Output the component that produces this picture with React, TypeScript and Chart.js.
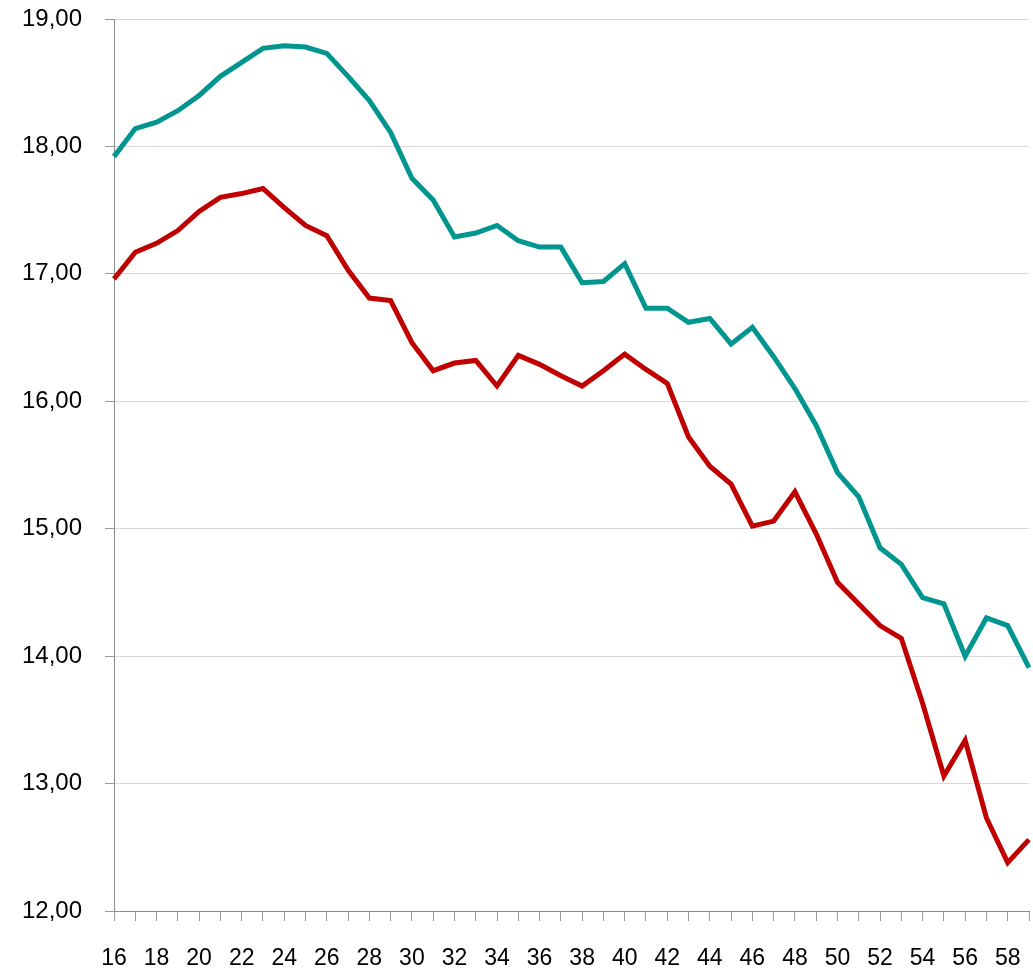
import React, { useEffect, useRef } from "react";
import { Chart, registerables } from "chart.js";

Chart.register(...registerables);

const categories: string[] = [];
for (let a = 16; a <= 59; a++) categories.push(String(a));

const tealSeries = [
  17.92, 18.14, 18.19, 18.28, 18.40, 18.55, 18.66, 18.77, 18.79, 18.78,
  18.73, 18.55, 18.36, 18.11, 17.75, 17.58, 17.29, 17.32, 17.38, 17.26,
  17.21, 17.21, 16.93, 16.94, 17.08, 16.73, 16.73, 16.62, 16.65, 16.45,
  16.58, 16.35, 16.10, 15.81, 15.44, 15.25, 14.85, 14.72, 14.46, 14.41,
  14.00, 14.30, 14.24, 13.91,
];

const redSeries = [
  16.96, 17.17, 17.24, 17.34, 17.49, 17.60, 17.63, 17.67, 17.52, 17.38,
  17.30, 17.03, 16.81, 16.79, 16.46, 16.24, 16.30, 16.32, 16.12, 16.36,
  16.29, 16.20, 16.12, 16.24, 16.37, 16.25, 16.14, 15.72, 15.49, 15.35,
  15.02, 15.06, 15.29, 14.96, 14.58, 14.41, 14.24, 14.14, 13.63, 13.06,
  13.34, 12.73, 12.38, 12.56,
];

const yMin = 12;
const yMax = 19;

export default function App() {
  const ref = useRef<HTMLCanvasElement | null>(null);

  useEffect(() => {
    if (!ref.current) return;
    const family = "'Liberation Sans', Arial, Helvetica, sans-serif";
    const chart = new Chart(ref.current, {
      type: "line",
      data: {
        labels: categories,
        datasets: [
          {
            data: tealSeries,
            borderColor: "#00968F",
            borderWidth: 5,
            pointRadius: 0,
            tension: 0,
            fill: false,
          },
          {
            data: redSeries,
            borderColor: "#C00000",
            borderWidth: 5,
            pointRadius: 0,
            tension: 0,
            fill: false,
          },
        ],
      },
      options: {
        animation: false,
        responsive: false,
        maintainAspectRatio: false,
        layout: { padding: { top: 19, right: 4, left: 0, bottom: 0 } },
        plugins: { legend: { display: false }, tooltip: { enabled: false } },
        scales: {
          x: {
            type: "category",
            offset: false,
            grid: {
              drawOnChartArea: false,
              drawTicks: true,
              tickLength: 10,
              tickColor: "#999999",
            },
            border: { display: true, color: "#8c8c8c", width: 1 },
            ticks: {
              autoSkip: false,
              maxRotation: 0,
              minRotation: 0,
              padding: 24,
              color: "#000000",
              font: { family, size: 23 },
              callback: (_v: any, i: number) => (i % 2 === 0 ? categories[i] : ""),
            },
            afterFit: (s: any) => {
              s.height = 58;
              s.paddingLeft = 0;
              s.paddingRight = 0;
            },
          },
          y: {
            min: yMin,
            max: yMax,
            grid: {
              color: "#d9d9d9",
              lineWidth: 1,
              drawTicks: true,
              tickLength: 9,
              tickColor: "#999999",
            },
            border: { display: true, color: "#8c8c8c", width: 1 },
            ticks: {
              stepSize: 1,
              padding: 23,
              color: "#000000",
              font: { family, size: 24 },
              callback: (v: any) => Number(v).toFixed(2).replace(".", ","),
            },
            afterFit: (s: any) => {
              s.width = 114;
              s.paddingTop = 0;
              s.paddingBottom = 0;
            },
          },
        },
      },
    });
    return () => chart.destroy();
  }, []);

  return (
    <div style={{ position: "absolute", left: 0, top: 0, width: 1033, height: 969, background: "#fff" }}>
      <canvas ref={ref} width={1033} height={969} style={{ display: "block" }} />
    </div>
  );
}
